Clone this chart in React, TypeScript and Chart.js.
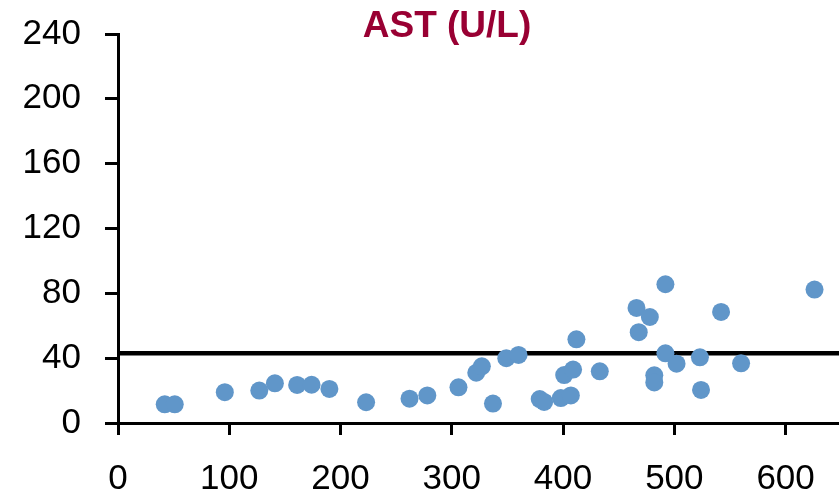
import React, { useEffect, useRef } from "react";
import { Chart, registerables } from "chart.js";

Chart.register(...registerables);

const titleText = "AST (U/L)";
const xValues = [42, 51, 96, 127, 141, 161, 174, 190, 223, 262, 278, 306, 322, 327, 337, 349, 360, 379, 383, 398, 407, 401, 409, 412, 433, 466, 478, 468, 492, 482, 482, 492, 502, 523, 524, 542, 560, 626];
const yValues = [11.5, 11.5, 19, 20, 24.5, 23.5, 23.6, 21, 12.8, 15, 17, 22, 31, 35, 12, 40, 42, 14.8, 13, 15.4, 17, 29.6, 33, 51.6, 31.9, 71, 65.4, 56, 85.6, 29.4, 25, 43, 36.6, 40.5, 20.4, 68.5, 36.8, 82.3];
const refValue = 43;
const xMin = 0;
const xMax = 648;
const yMin = 0;
const yMax = 240;

export default function App() {
  const ref = useRef<HTMLCanvasElement>(null);
  useEffect(() => {
    document.body.style.margin = "0";
    const canvas = ref.current!;
    const titlePlugin = {
      id: "customTitle",
      afterDraw(chart: any) {
        const ctx = chart.ctx;
        ctx.save();
        ctx.font = "bold 37px 'Liberation Sans', Arial, sans-serif";
        ctx.fillStyle = "#990033";
        ctx.textAlign = "center";
        ctx.textBaseline = "alphabetic";
        ctx.fillText(titleText, 447, 37);
        ctx.restore();
      },
    };
    const chart = new Chart(canvas, {
      type: "scatter",
      data: {
        datasets: [
          {
            type: "scatter",
            data: xValues.map((x, i) => ({ x, y: yValues[i] })),
            backgroundColor: "#6096C9",
            borderWidth: 0,
            pointRadius: 9,
            pointHoverRadius: 9,
            order: 1,
          },
          {
            type: "line",
            data: [
              { x: xMin, y: refValue },
              { x: xMax, y: refValue },
            ],
            borderColor: "#000000",
            borderWidth: 4.5,
            pointRadius: 0,
            fill: false,
            order: 2,
          } as any,
        ],
      },
      options: {
        responsive: false,
        animation: false,
        devicePixelRatio: 1,
        layout: { autoPadding: false, padding: { top: 34, right: 0, left: 0, bottom: 0 } },
        plugins: {
          legend: { display: false },
          title: { display: false },
          tooltip: { enabled: false },
        },
        scales: {
          x: {
            type: "linear",
            min: xMin,
            max: xMax,
            afterFit(scale: any) {
              scale.height = 72;
              scale.paddingLeft = 0;
              scale.paddingRight = 0;
            },
            ticks: {
              stepSize: 100,
              includeBounds: false,
              color: "#000000",
              font: { family: "'Liberation Sans', Arial, sans-serif", size: 35 },
              padding: 23,
              maxRotation: 0,
            },
            grid: {
              drawOnChartArea: false,
              drawTicks: true,
              tickLength: 12,
              tickWidth: 3,
              tickColor: "#000000",
            },
            border: { display: true, width: 3, color: "#000000" },
          },
          y: {
            type: "linear",
            min: yMin,
            max: yMax,
            afterFit(scale: any) {
              scale.width = 118;
              scale.paddingTop = 0;
              scale.paddingBottom = 0;
            },
            ticks: {
              stepSize: 40,
              color: "#000000",
              font: { family: "'Liberation Sans', Arial, sans-serif", size: 35 },
              padding: 24,
            },
            grid: {
              drawOnChartArea: false,
              drawTicks: true,
              tickLength: 13,
              tickWidth: 3,
              tickColor: "#000000",
            },
            border: { display: true, width: 3, color: "#000000" },
          },
        },
      },
      plugins: [titlePlugin],
    } as any);
    return () => chart.destroy();
  }, []);
  return (
    <div style={{ position: "absolute", left: 0, top: 0, width: 839, height: 495 }}>
      <canvas ref={ref} width={839} height={495} />
    </div>
  );
}
